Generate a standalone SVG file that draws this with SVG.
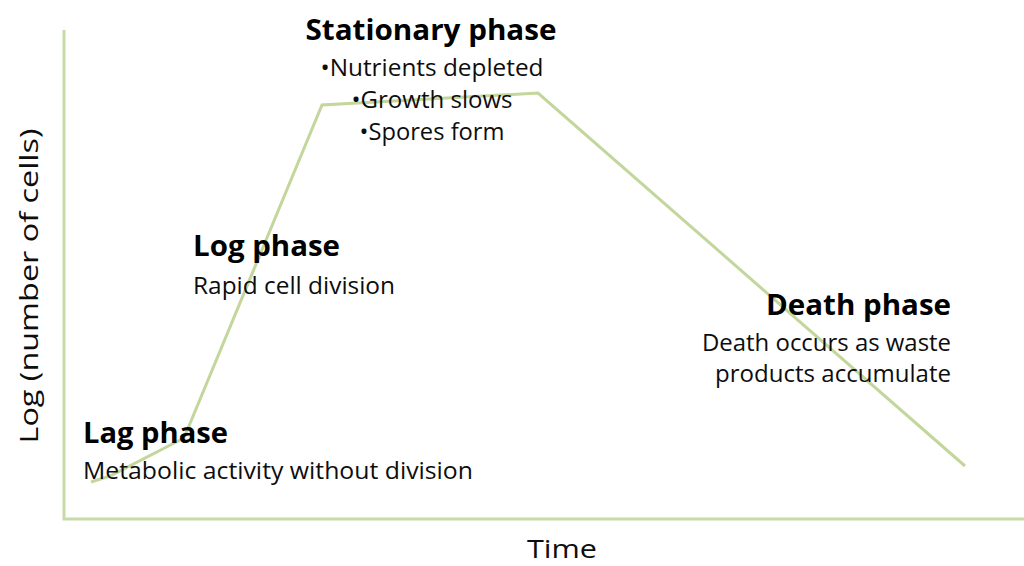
<svg xmlns="http://www.w3.org/2000/svg" width="1024" height="566" viewBox="0 0 1024 566">
<style>
.axis{stroke:#c7dba8;stroke-width:3;fill:none}
.curve{stroke:#c3d69b;stroke-width:3;fill:none;stroke-linejoin:miter}
.h{font-family:"Open Sans","Liberation Sans",sans-serif;font-weight:bold;font-size:29px;fill:#000}
.b{font-family:"Open Sans","Liberation Sans",sans-serif;font-size:23.5px;fill:#0d0d0d}
.ax{font-family:"Open Sans","Liberation Sans",sans-serif;font-size:25px;fill:#0d0d0d}
</style>
<rect width="1024" height="566" fill="#fff"/>
<g id="axes">
<polyline class="axis" points="64,30 64,519 1024,519"/>
</g>
<g id="connectors">
<polyline class="curve" points="91,482 110,476 184,438 322,105 538,93 965,466"/>
</g>
<g id="stationary">
<text class="h" x="431" y="40" text-anchor="middle" textLength="251" lengthAdjust="spacingAndGlyphs">Stationary phase</text>
<text class="b" x="432" y="76" text-anchor="middle" textLength="223" lengthAdjust="spacingAndGlyphs">•Nutrients depleted</text>
<text class="b" x="432" y="108" text-anchor="middle" textLength="161" lengthAdjust="spacingAndGlyphs">•Growth slows</text>
<text class="b" x="432" y="140" text-anchor="middle" textLength="145" lengthAdjust="spacingAndGlyphs">•Spores form</text>
</g>
<g id="log">
<text class="h" x="193" y="256" textLength="147" lengthAdjust="spacingAndGlyphs">Log phase</text>
<text class="b" x="193" y="294" textLength="202" lengthAdjust="spacingAndGlyphs">Rapid cell division</text>
</g>
<g id="lag">
<text class="h" x="83" y="443" textLength="145" lengthAdjust="spacingAndGlyphs">Lag phase</text>
<text class="b" x="83" y="479" textLength="390" lengthAdjust="spacingAndGlyphs">Metabolic activity without division</text>
</g>
<g id="death">
<text class="h" x="951" y="315" text-anchor="end" textLength="185" lengthAdjust="spacingAndGlyphs">Death phase</text>
<text class="b" x="951" y="351" text-anchor="end" textLength="249" lengthAdjust="spacingAndGlyphs">Death occurs as waste</text>
<text class="b" x="951" y="382" text-anchor="end" textLength="236" lengthAdjust="spacingAndGlyphs">products accumulate</text>
</g>
<g id="axis-labels">
<text class="ax" x="562" y="558" text-anchor="middle" textLength="70" lengthAdjust="spacingAndGlyphs">Time</text>
<text class="ax" transform="translate(38,286) rotate(-90)" text-anchor="middle" textLength="315" lengthAdjust="spacingAndGlyphs">Log (number of cells)</text>
</g>
</svg>
